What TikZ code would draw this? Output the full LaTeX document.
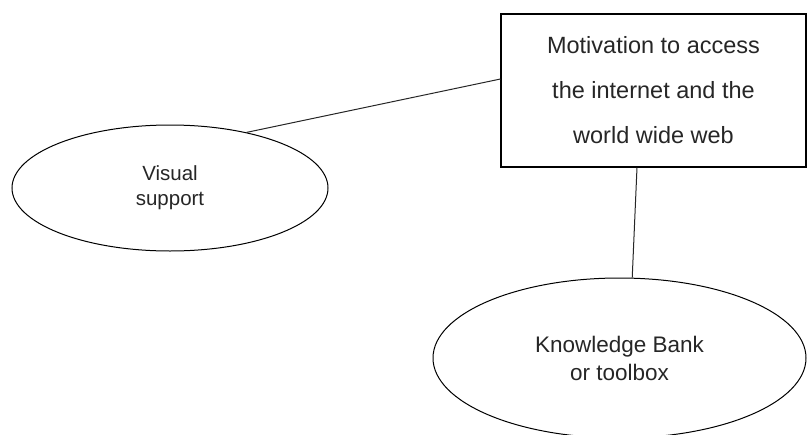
\documentclass[tikz,border=0pt]{standalone}
\usepackage{fontspec}
\setmainfont{Liberation Sans}
\usetikzlibrary{shapes.geometric}

\begin{document}
\begin{tikzpicture}[x=1pt,y=-1pt,thin,
		main box/.style={rectangle,draw,line width=1.1pt,inner sep=0pt,align=center,
			minimum width=305pt,minimum height=153pt,text=black!85,
			font=\fontsize{23.5}{45}\selectfont},
		idea node/.style={ellipse,draw,line width=1pt,inner sep=0pt,align=center,text=black!85}]
		\useasboundingbox (0,0) rectangle (809,434);
		
		\node[main box] (mot) at (653.5,90.5) {Motivation to access\\the internet and the\\world wide web};
		\node[idea node,minimum width=316pt,minimum height=126pt,
			font=\fontsize{20.5}{25}\selectfont] (vis) at (170,188) {Visual\\support};
		\node[idea node,minimum width=373pt,minimum height=160pt,
			font=\fontsize{22.5}{28}\selectfont] (kb) at (619.5,358) {Knowledge Bank\\or toolbox};
		
		\path[draw,line width=1pt,black!85]
		(vis.36) edge ([yshift=11.5pt]mot.west)
		([xshift=-16.5pt]mot.south) edge (kb.81.5);
		\end{tikzpicture}
\end{document}
